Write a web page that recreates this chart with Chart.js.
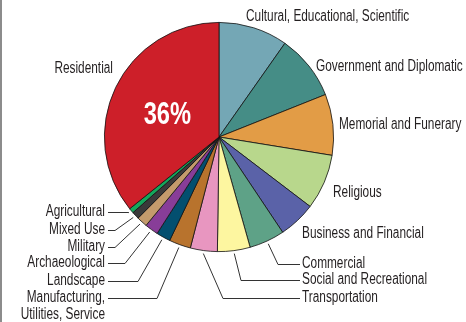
<!DOCTYPE html>
<html lang="en">
<head>
    <script src="https://cdn.jsdelivr.net/npm/chart.js"></script>
    <style>
        html, body { margin: 0; padding: 0; background: #fff; }
        .wrap { width: 466px; height: 322px; position: relative; }
    </style>
</head>
<body>
    <div class="wrap"><canvas id="pieChart" width="466" height="322"></canvas></div>
    <script>
        // categories, clockwise from 12 o'clock
        const categories = [
            ['Cultural, Educational, Scientific'],
            ['Government and Diplomatic'],
            ['Memorial and Funerary'],
            ['Religious'],
            ['Business and Financial'],
            ['Commercial'],
            ['Social and Recreational'],
            ['Transportation'],
            ['Manufacturing,', 'Utilities, Service'],
            ['Landscape'],
            ['Archaeological'],
            ['Military'],
            ['Mixed Use'],
            ['Agricultural'],
            ['Residential']
        ];
        const shares = [9.75, 9.2, 8.6, 7.8, 5.25, 5.0, 4.6, 3.8, 3.05, 2.0, 1.9, 1.5, 1.05, 0.7, 35.75];
        const bigLabel = '36%';

        const sliceColors = [
            '#74a7b5', '#458d86', '#e29c46', '#b8d78c', '#5a62a8',
            '#5ea287', '#fdf6a0', '#e896c0', '#b8732d', '#034f6f',
            '#883d98', '#c49b6c', '#3a3a3a', '#14a85c', '#cd1f29'
        ];

        // where each label sits (text anchor) and the elbow of its leader line
        const labelLayout = [
            { x: 246, y: 17, align: 'left' },
            { x: 316, y: 67, align: 'left' },
            { x: 339, y: 125, align: 'left' },
            { x: 333, y: 193, align: 'left' },
            { x: 302, y: 234, align: 'left' },
            { x: 302, y: 264, align: 'left', elbow: 278 },
            { x: 302, y: 280, align: 'left', elbow: 241 },
            { x: 302, y: 298, align: 'left', elbow: 223 },
            { x: 105, y: 298, align: 'right', elbow: 157 },
            { x: 105, y: 281, align: 'right', elbow: 138 },
            { x: 105, y: 263, align: 'right', elbow: 125 },
            { x: 105, y: 247, align: 'right', elbow: 115 },
            { x: 105, y: 230, align: 'right', elbow: 115 },
            { x: 105, y: 212, align: 'right', elbow: 128 },
            { x: 113, y: 69, align: 'right' }
        ];

        const squeeze = 0.74; // condensed look
        const labelFont = '16px "Liberation Sans", Arial, sans-serif';

        function narrowText(ctx, t, x, y) {
            ctx.save();
            ctx.translate(x, y);
            ctx.scale(squeeze, 1);
            ctx.fillText(t, 0, 0);
            ctx.restore();
        }

        const labelPlugin = {
            id: 'labelPlugin',
            afterDraw(chart) {
                const ctx = chart.ctx;
                const arcs = chart.getDatasetMeta(0).data;
                ctx.save();
                // frame line on the left
                ctx.fillStyle = '#8c8c8c';
                ctx.fillRect(0, 0, 2, chart.height);

                ctx.font = labelFont;
                ctx.textBaseline = 'middle';
                ctx.fillStyle = '#231f20';
                ctx.strokeStyle = '#333';
                ctx.lineWidth = 1;
                arcs.forEach((arc, i) => {
                    const lay = labelLayout[i];
                    const lines = categories[i];
                    ctx.textAlign = lay.align;
                    lines.forEach((t, k) => narrowText(ctx, t, lay.x, lay.y + k * 17));
                    if (lay.elbow !== undefined) {
                        const p = arc.getProps(['x', 'y', 'startAngle', 'endAngle', 'outerRadius'], true);
                        const mid = (p.startAngle + p.endAngle) / 2;
                        const r = p.outerRadius + 3;
                        const ax = p.x + Math.cos(mid) * r;
                        const ay = p.y + Math.sin(mid) * r;
                        const sx = lay.align === 'right' ? lay.x + 3 : lay.x - 2;
                        ctx.beginPath();
                        ctx.moveTo(sx, lay.y + 0.5);
                        ctx.lineTo(lay.elbow, lay.y + 0.5);
                        ctx.lineTo(ax, ay);
                        ctx.stroke();
                    }
                });

                // big percentage on the largest slice
                const big = arcs[arcs.length - 1].getProps(['x', 'y', 'startAngle', 'endAngle', 'outerRadius'], true);
                const bm = (big.startAngle + big.endAngle) / 2;
                ctx.font = 'bold 32px "Liberation Sans", Arial, sans-serif';
                ctx.fillStyle = '#fff';
                ctx.textAlign = 'center';
                narrowText(ctx, bigLabel, big.x + Math.cos(bm) * big.outerRadius * 0.5, big.y + Math.sin(bm) * big.outerRadius * 0.5 + 3);
                ctx.restore();
            }
        };

        new Chart(document.getElementById('pieChart'), {
            type: 'pie',
            data: {
                labels: categories.map(c => c.join(' ')),
                datasets: [{
                    data: shares,
                    backgroundColor: sliceColors,
                    borderColor: '#111',
                    borderWidth: 0.8
                }]
            },
            options: {
                responsive: false,
                animation: false,
                layout: { padding: { left: 104, right: 132, top: 22, bottom: 70 } },
                plugins: {
                    legend: { display: false },
                    tooltip: { enabled: false }
                }
            },
            plugins: [labelPlugin]
        });
    </script>
</body>
</html>
